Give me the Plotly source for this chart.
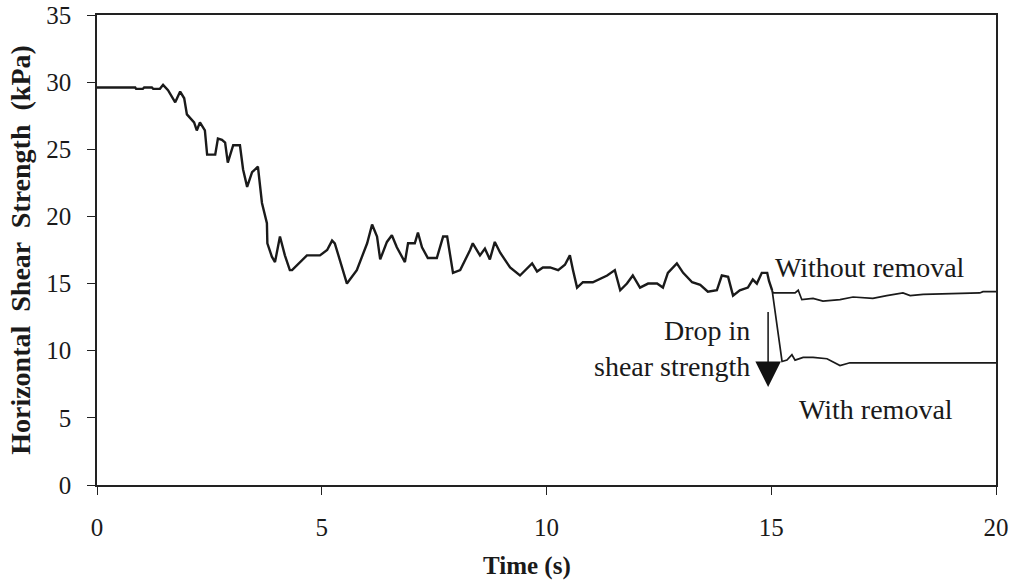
import plotly.graph_objects as go

# Main measured curve (Without removal), time in s, shear strength in kPa
time_main = [0, 0.85, 0.87, 1.02, 1.05, 1.22, 1.25, 1.40, 1.47, 1.58, 1.74, 1.85, 1.94, 2.0, 2.16,
             2.22, 2.29, 2.36, 2.40, 2.45, 2.63, 2.69, 2.78, 2.85, 2.91, 3.03, 3.18, 3.25, 3.34,
             3.45, 3.58, 3.67, 3.78, 3.79, 3.89, 3.96, 4.07, 4.18, 4.29, 4.34, 4.67, 4.96, 5.12,
             5.23, 5.29, 5.56, 5.78, 6.01, 6.12, 6.23, 6.30, 6.45, 6.56, 6.67, 6.85, 6.92, 7.07,
             7.14, 7.23, 7.36, 7.56, 7.70, 7.79, 7.92, 8.08, 8.30, 8.36, 8.52, 8.63, 8.74, 8.85,
             8.97, 9.19, 9.41, 9.68, 9.79, 9.92, 10.08, 10.26, 10.41, 10.52, 10.59, 10.68, 10.81,
             11.03, 11.35, 11.52, 11.64, 11.79, 11.92, 12.08, 12.26, 12.46, 12.59, 12.70, 12.90,
             13.04, 13.24, 13.42, 13.59, 13.79, 13.90, 14.04, 14.15, 14.30, 14.48, 14.59, 14.68,
             14.79, 14.91, 14.95, 15.02]
shear_main = [29.6, 29.6, 29.5, 29.5, 29.6, 29.6, 29.5, 29.5, 29.8, 29.4, 28.5, 29.3, 28.8, 27.6, 27.0,
              26.4, 27.0, 26.6, 26.4, 24.6, 24.6, 25.8, 25.7, 25.5, 24.0, 25.3, 25.3, 23.5, 22.2,
              23.3, 23.7, 21.0, 19.5, 18.0, 17.0, 16.6, 18.5, 17.1, 16.0, 16.0, 17.1, 17.1, 17.5,
              18.2, 18.0, 15.0, 16.0, 18.0, 19.4, 18.5, 16.8, 18.1, 18.6, 17.7, 16.6, 18.0, 18.0,
              18.8, 17.7, 16.9, 16.9, 18.5, 18.5, 15.8, 16.0, 17.5, 18.0, 17.1, 17.6, 16.8, 18.1,
              17.3, 16.2, 15.6, 16.5, 15.9, 16.2, 16.2, 16.0, 16.4, 17.1, 16.0, 14.7, 15.1,
              15.1, 15.6, 16.0, 14.5, 15.0, 15.6, 14.7, 15.0, 15.0, 14.7, 15.8, 16.5,
              15.8, 15.1, 14.9, 14.4, 14.5, 15.6, 15.5, 14.1, 14.5, 14.7, 15.3, 15.0,
              15.8, 15.8, 15.2, 14.5]

# Continuation without removal
time_without = [15.02, 15.04, 15.53, 15.60, 15.68, 15.93, 16.15, 16.53, 16.82, 17.26, 17.57, 17.93,
                18.09, 18.38, 19.64, 19.71, 20.0]
shear_without = [14.5, 14.3, 14.3, 14.5, 13.8, 13.9, 13.7, 13.8, 14.0, 13.9, 14.1, 14.3,
                 14.1, 14.2, 14.3, 14.4, 14.4]

# With removal branch
time_with = [15.02, 15.24, 15.35, 15.46, 15.53, 15.71, 15.93, 16.24, 16.53, 16.75, 20.0]
shear_with = [14.5, 9.2, 9.3, 9.7, 9.3, 9.5, 9.5, 9.4, 8.9, 9.1, 9.1]

x_ticks = [0, 5, 10, 15, 20]
y_ticks = [0, 5, 10, 15, 20, 25, 30, 35]

SERIF = "Liberation Serif, Times New Roman, serif"

fig = go.Figure()
fig.add_trace(go.Scatter(x=time_main, y=shear_main, mode="lines",
                         line=dict(color="#1a1a1a", width=2.4), showlegend=False))
fig.add_trace(go.Scatter(x=time_without, y=shear_without, mode="lines",
                         line=dict(color="#1a1a1a", width=1.7), showlegend=False))
fig.add_trace(go.Scatter(x=time_with, y=shear_with, mode="lines",
                         line=dict(color="#1a1a1a", width=1.7), showlegend=False))

axis_common = dict(showgrid=False, zeroline=False, linecolor="#222", linewidth=1.5,
                   tickcolor="#222", tickwidth=1.2, ticklen=8, automargin=False)

fig.update_layout(
    width=1011, height=584,
    margin=dict(l=97, r=15, t=15, b=99),
    paper_bgcolor="white", plot_bgcolor="white",
    font=dict(family=SERIF, color="#1a1a1a", size=25),
    xaxis=dict(range=[0, 20], tickvals=x_ticks, ticks="outside", showline=True, mirror=True,
               ticklabelstandoff=11, **axis_common),
    yaxis=dict(range=[0, 35], tickvals=y_ticks, ticks="outside", showline=True, mirror=True,
               ticklabelstandoff=11,
               title=dict(text="<b>Horizontal  Shear  Strength  (kPa)</b>",
                          font=dict(size=28, family=SERIF), standoff=7),
               **axis_common),
    xaxis2=dict(range=[0, 20], tickvals=x_ticks, ticks="inside", overlaying="x", anchor="y",
                side="bottom", showticklabels=False, showline=False, showgrid=False,
                zeroline=False, tickcolor="#222", tickwidth=1.2, ticklen=7),
    yaxis2=dict(range=[0, 35], tickvals=y_ticks, ticks="inside", overlaying="y", anchor="x",
                side="left", showticklabels=False, showline=False, showgrid=False,
                zeroline=False, tickcolor="#222", tickwidth=1.2, ticklen=7),
)

# X axis title (slightly left of plot centre in the original); paper coords span the plot area
fig.add_annotation(x=0.478, y=-0.172, xref="paper", yref="paper",
                   text="<b>Time (s)</b>", showarrow=False, xanchor="center", yanchor="middle",
                   font=dict(size=25, family=SERIF))

# Drop arrow
fig.add_annotation(x=14.93, y=7.3, ax=14.93, ay=13.0, xref="x", yref="y", axref="x", ayref="y",
                   text="", showarrow=True, arrowhead=2, arrowsize=3.4, arrowwidth=1.5,
                   arrowcolor="#111")

fig.add_annotation(x=15.04, y=16.2, xref="x", yref="y", text="Without removal", showarrow=False,
                   xanchor="left", yanchor="middle", font=dict(size=28, family=SERIF))
fig.add_annotation(x=14.57, y=10.15, xref="x", yref="y", text="Drop in<br>shear strength",
                   showarrow=False, xanchor="right", yanchor="middle", align="right",
                   font=dict(size=28, family=SERIF))
fig.add_annotation(x=15.57, y=5.6, xref="x", yref="y", text="With removal", showarrow=False,
                   xanchor="left", yanchor="middle", font=dict(size=28, family=SERIF))

fig.write_html("out.html")
